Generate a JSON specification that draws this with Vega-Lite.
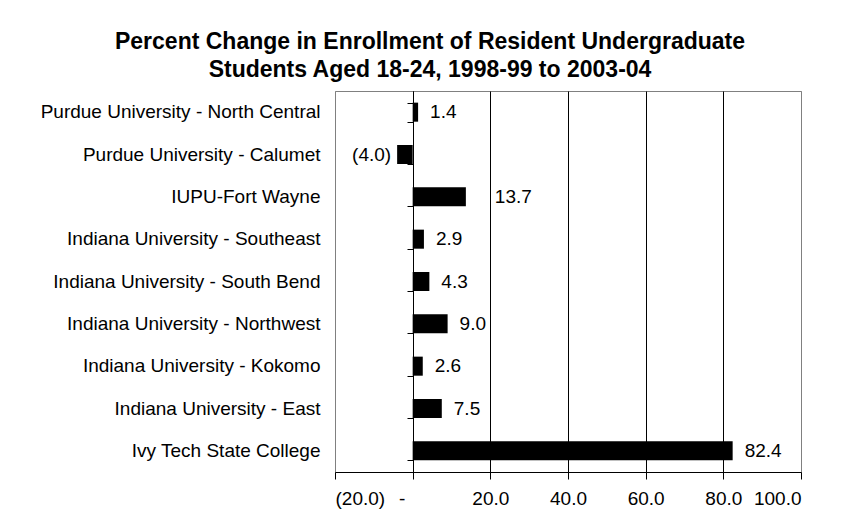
{
  "$schema": "https://vega.github.io/schema/vega-lite/v6.json",
  "autosize": "none",
  "width": 466,
  "height": 381,
  "padding": {"left": 335, "top": 91, "right": 50, "bottom": 47},
  "background": "white",
  "title": {
    "text": ["Percent Change in Enrollment of Resident Undergraduate", "Students Aged 18-24, 1998-99 to 2003-04"],
    "font": "Liberation Sans",
    "fontSize": 23,
    "fontWeight": "bold",
    "color": "black",
    "anchor": "middle",
    "dx": -138,
    "offset": 9,
    "lineHeight": 28
  },
  "config": {
    "view": {"stroke": "#808080", "strokeWidth": 1},
    "font": "Liberation Sans"
  },
  "data": {
    "values": [
      {"school": "Purdue University - North Central", "value": 1.4},
      {"school": "Purdue University - Calumet", "value": -4.0},
      {"school": "IUPU-Fort Wayne", "value": 13.7},
      {"school": "Indiana University - Southeast", "value": 2.9},
      {"school": "Indiana University - South Bend", "value": 4.3},
      {"school": "Indiana University - Northwest", "value": 9.0},
      {"school": "Indiana University - Kokomo", "value": 2.6},
      {"school": "Indiana University - East", "value": 7.5},
      {"school": "Ivy Tech State College", "value": 82.4}
    ]
  },
  "encoding": {
    "y": {
      "field": "school",
      "type": "nominal",
      "sort": null,
      "scale": {"paddingInner": 0.55, "paddingOuter": 0.275}
    },
    "x": {
      "field": "value",
      "type": "quantitative",
      "scale": {"domain": [-20, 100], "nice": false, "zero": false},
      "axis": {
        "orient": "bottom",
        "values": [-20, 0, 20, 40, 60, 80, 100],
        "title": null,
        "grid": true,
        "gridColor": {"condition": {"test": "datum.value == -20 || datum.value == 100", "value": "#808080"}, "value": "black"},
        "gridOpacity": 1,
        "domainColor": "black",
        "tickColor": "black",
        "tickSize": 7,
        "labelFont": "Liberation Sans",
        "labelFontSize": 19,
        "labelColor": "black",
        "labelPadding": 10,
        "labelOffset": {"condition": {"test": "datum.value == 0", "value": -11}, "value": 0},
        "labelExpr": "datum.value < 0 ? '(' + format(-datum.value, '.1f') + ')' : (datum.value == 0 ? '-' : format(datum.value, '.1f'))"
      }
    }
  },
  "layer": [
    {
      "mark": {"type": "bar", "color": "black"},
      "encoding": {
        "y": {
          "field": "school",
          "type": "nominal",
          "sort": null,
          "axis": {
            "orient": "left",
            "title": null,
            "ticks": false,
            "domain": false,
            "labelPadding": 15,
            "labelLimit": 400,
            "labelFont": "Liberation Sans",
            "labelFontSize": 19,
            "labelColor": "black"
          }
        }
      }
    },
    {
      "mark": {
        "type": "text",
        "font": "Liberation Sans",
        "fontSize": 19,
        "color": "black",
        "baseline": "middle",
        "align": {"expr": "datum.value < 0 ? 'right' : 'left'"},
        "dx": {"expr": "datum.value < 0 ? -6 : (datum.value > 10 && datum.value < 20 ? 29 : 12)"}
      },
      "encoding": {
        "text": {"field": "value", "type": "quantitative", "format": "(.1f"},
        "y": {
          "field": "school",
          "type": "nominal",
          "sort": null,
          "axis": {
            "orient": "left",
            "title": null,
            "labels": false,
            "ticks": true,
            "tickBand": "extent",
            "tickSize": 6,
            "tickColor": "black",
            "domain": true,
            "domainColor": "black",
            "offset": -78
          }
        }
      }
    }
  ],
  "resolve": {"axis": {"y": "independent"}}
}
